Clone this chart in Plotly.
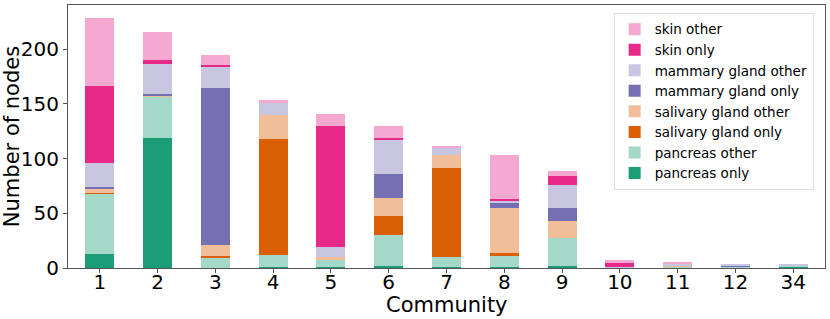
import plotly.graph_objects as go

communities = ["1", "2", "3", "4", "5", "6", "7", "8", "9", "10", "11", "12", "34"]

pancreas_only   = [13, 119, 0, 1, 1, 2, 1, 1, 2, 0, 0, 0, 1]
pancreas_other  = [55, 37, 9, 11, 6, 28, 9, 10, 25, 0, 1, 1, 1]
salivary_only   = [1, 0, 2, 106, 0, 18, 81, 3, 0, 0, 0, 0, 0]
salivary_other  = [3, 2, 10, 22, 3, 16, 12, 41, 16, 0, 1, 0, 0]
mammary_only    = [2, 1, 144, 0, 0, 22, 0, 4, 12, 0, 0, 1, 0]
mammary_other   = [22, 28, 19, 11, 9, 31, 7, 2, 21, 1, 2, 2, 1]
skin_only       = [70, 3, 2, 0, 111, 2, 0, 2, 8, 4, 0, 0, 0]
skin_other      = [63, 26, 9, 3, 11, 11, 1, 40, 5, 2, 1, 0, 0]

series = [
    ("pancreas only", pancreas_only, "#1b9e77"),
    ("pancreas other", pancreas_other, "#a4d8c9"),
    ("salivary gland only", salivary_only, "#d95f02"),
    ("salivary gland other", salivary_other, "#f0bf9a"),
    ("mammary gland only", mammary_only, "#7570b3"),
    ("mammary gland other", mammary_other, "#c8c6e1"),
    ("skin only", skin_only, "#e7298a"),
    ("skin other", skin_other, "#f5a9d0"),
]

fig = go.Figure()
for name, vals, color in series:
    fig.add_trace(go.Bar(
        x=communities, y=vals, name=name,
        marker=dict(color=color, line=dict(width=0)),
        width=0.5,
    ))

font = "DejaVu Sans, Arial, sans-serif"
fig.update_layout(
    barmode="stack",
    width=830, height=319,
    margin=dict(l=68, r=5, t=5, b=51, autoexpand=False),
    plot_bgcolor="white", paper_bgcolor="white",
    font=dict(family=font, color="black"),
    legend=dict(
        traceorder="reversed",
        x=0.985, y=0.97, xanchor="right", yanchor="top",
        bordercolor="#dddddd", borderwidth=1,
        bgcolor="rgba(255,255,255,0.8)",
        font=dict(size=13.5, family=font),
        itemwidth=30, tracegroupgap=0,
    ),
    showlegend=True,
    annotations=[dict(
        text="Community", xref="paper", yref="paper",
        x=0.5, y=-0.14, xanchor="center", yanchor="middle",
        showarrow=False, font=dict(size=21, family=font),
    )],
)
fig.update_xaxes(
    type="category", range=[-0.55, 12.55],
    showline=True, linecolor="#555", linewidth=1, mirror=True,
    ticks="outside", ticklen=4, tickcolor="#555",
    tickfont=dict(size=20), ticklabelstandoff=-8,
    showgrid=False, automargin=False,
)
fig.update_yaxes(
    range=[0, 240.5],
    showline=True, linecolor="#555", linewidth=1, mirror=True,
    ticks="outside", ticklen=4, tickcolor="#555",
    tickvals=[0, 50, 100, 150, 200],
    tickfont=dict(size=20),
    title=dict(text="Number of nodes", font=dict(size=21), standoff=2),
    showgrid=False, zeroline=False, automargin=False,
)

fig.write_html("out.html", config={"displayModeBar": False},
               post_script="document.body.style.margin='0';document.body.style.overflow='hidden';")
